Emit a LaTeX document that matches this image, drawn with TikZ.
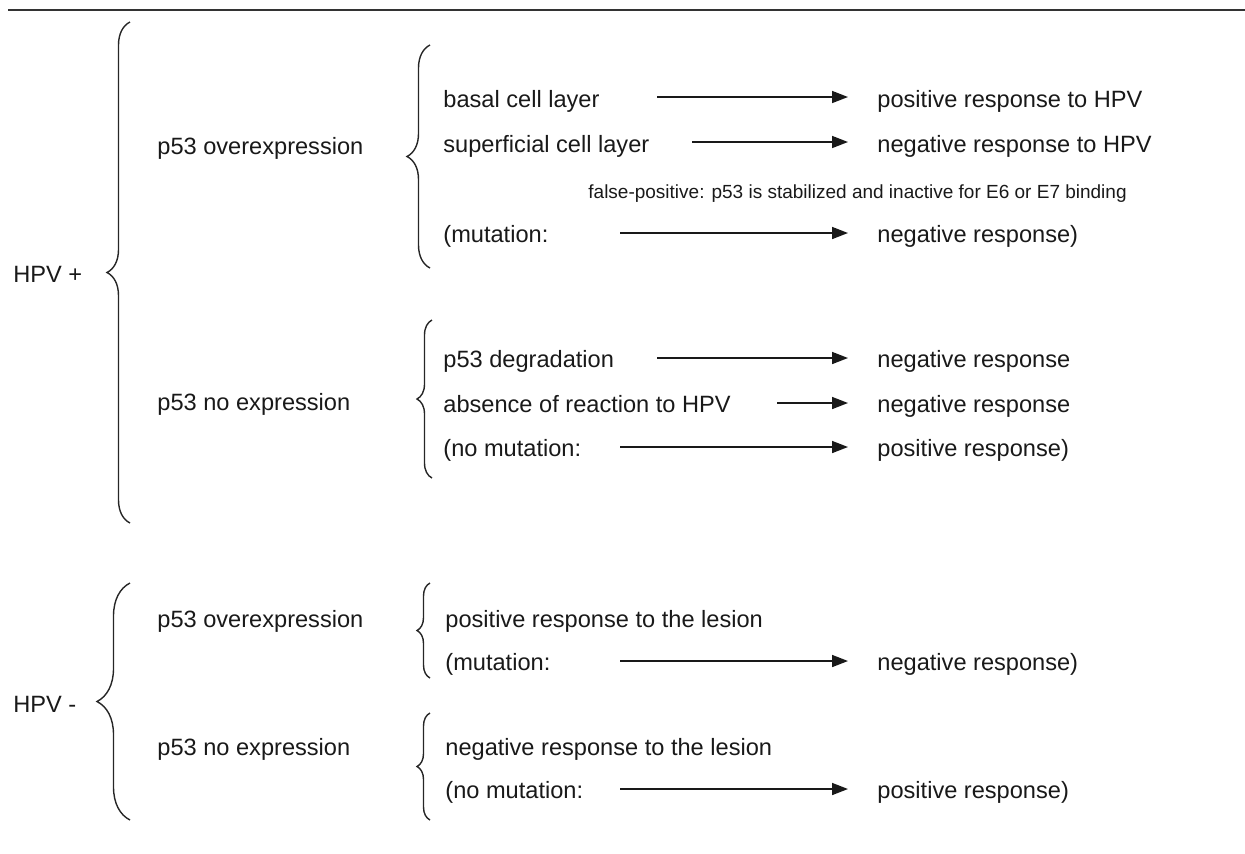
\documentclass[tikz,border=0pt]{standalone}
\usepackage{fontspec}
\setmainfont{Liberation Sans}
\usetikzlibrary{arrows.meta,decorations.pathreplacing}

\begin{document}
\begin{tikzpicture}[x=0.5pt, y=-0.5pt,
    txt/.style={anchor=base west, inner sep=0pt, text=black!90, font=\fontsize{11.8}{14}\selectfont},
    note/.style={anchor=base west, inner sep=0pt, text=black!90, font=\fontsize{9.5}{12}\selectfont},
    arr/.style={draw=black!90, line width=0.8pt, -{Triangle[length=8pt,width=6pt]}, shorten >=14.5pt},
    brc/.style={draw=black!85, line width=0.7pt, decorate, decoration={brace, amplitude=#1}}]
    \useasboundingbox (0,0) rectangle (1245,853);
    \draw[black!80, line width=1pt] (8,10) -- (1245,10);

    \node[txt] (hpvp) at (13,282) {HPV +};
    \node[txt] (hpvm) at (13,712) {HPV -};
    \node[txt] (overp) at (157,154) {p53 overexpression};
    \node[txt] (nonep) at (157,410) {p53 no expression};
    \node[txt] (overm) at (157,627) {p53 overexpression};
    \node[txt] (nonem) at (157,755) {p53 no expression};

    \node[txt] (basal) at (443,107) {basal cell layer};
    \node[txt] (superf) at (443,152) {superficial cell layer};
    \node[note] (falsepos) at (588,198) {false-positive: p53 is stabilized and inactive for E6 or E7 binding};
    \node[txt] (mutp) at (443,242) {(mutation:};
    \node[txt] (degr) at (443,367) {p53 degradation};
    \node[txt] (absence) at (443,412) {absence of reaction to HPV};
    \node[txt] (nomutp) at (443,456) {(no mutation:};
    \node[txt] (poslesion) at (445,627) {positive response to the lesion};
    \node[txt] (mutm) at (445,670) {(mutation:};
    \node[txt] (neglesion) at (445,755) {negative response to the lesion};
    \node[txt] (nomutm) at (445,798) {(no mutation:};

    \node[txt] (rbasal) at (877,107) {positive response to HPV};
    \node[txt] (rsuperf) at (877,152) {negative response to HPV};
    \node[txt] (rmutp) at (877,242) {negative response)};
    \node[txt] (rdegr) at (877,367) {negative response};
    \node[txt] (rabsence) at (877,412) {negative response};
    \node[txt] (rnomutp) at (877,456) {positive response)};
    \node[txt] (rmutm) at (877,670) {negative response)};
    \node[txt] (rnomutm) at (877,798) {positive response)};

    \coordinate (abasal) at (657,97);
    \coordinate (asuperf) at (692,142);
    \coordinate (amutp) at (620,233);
    \coordinate (adegr) at (657,358);
    \coordinate (aabsence) at (777,403);
    \coordinate (anomutp) at (620,447);
    \coordinate (amutm) at (620,661);
    \coordinate (anomutm) at (620,789);

    \draw[arr] (abasal) -- (abasal -| rbasal.west);
    \draw[arr] (asuperf) -- (asuperf -| rsuperf.west);
    \draw[arr] (amutp) -- (amutp -| rmutp.west);
    \draw[arr] (adegr) -- (adegr -| rdegr.west);
    \draw[arr] (aabsence) -- (aabsence -| rabsence.west);
    \draw[arr] (anomutp) -- (anomutp -| rnomutp.west);
    \draw[arr] (amutm) -- (amutm -| rmutm.west);
    \draw[arr] (anomutm) -- (anomutm -| rnomutm.west);

    \draw[brc=11.5pt] (130,523) -- (130,22);
    \draw[brc=11.5pt] (430,268) -- (430,45);
    \draw[brc=7.5pt] (432,478) -- (432,320);
    \draw[brc=16.5pt] (130,820) -- (130,583);
    \draw[brc=6.5pt] (430,678) -- (430,583);
    \draw[brc=6.5pt] (430,820) -- (430,713);
\end{tikzpicture}
\end{document}
